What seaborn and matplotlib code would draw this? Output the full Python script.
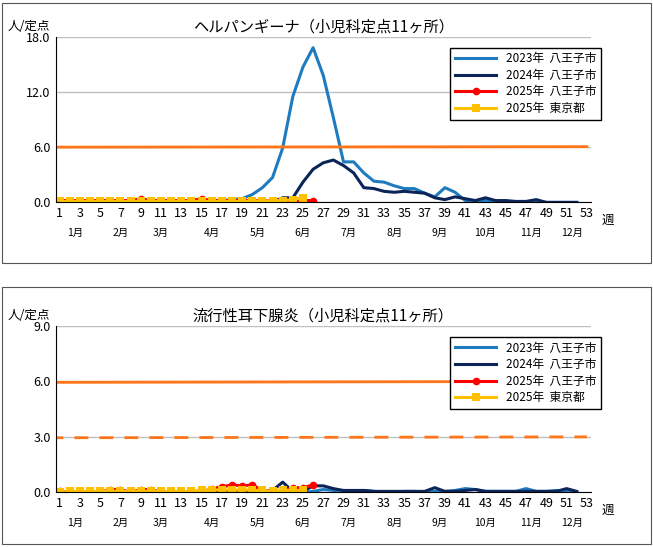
import numpy as np
import pandas as pd
import matplotlib
matplotlib.use('Agg')
import matplotlib.pyplot as plt
import seaborn as sns

plt.rcParams['font.family'] = ['Noto Sans CJK JP']

weeks = list(range(1, 53))

# Herpangina
herp_2023 = [0.1, 0.1, 0.1, 0.1, 0.1, 0.1, 0.1, 0.1, 0.1, 0.1, 0.1, 0.1, 0.1, 0.1, 0.1, 0.2, 0.2, 0.3, 0.4, 0.85,
             1.6, 2.7, 5.9, 11.5, 14.7, 16.8, 13.8, 9.2, 4.4, 4.4, 3.2, 2.3, 2.2, 1.8, 1.5, 1.5, 1.0, 0.6, 1.6, 1.1,
             0.2, 0.2, 0.2, 0.1, 0.1, 0.1, 0.1, 0.1, 0.0, 0.0, 0.0, 0.0]
herp_2024 = [0.0] * 22 + [0.5, 0.5, 2.2, 3.6, 4.3, 4.6, 4.0, 3.2, 1.6, 1.5, 1.2, 1.1, 1.2, 1.1, 1.0, 0.5, 0.3, 0.6,
             0.4, 0.2, 0.5, 0.2, 0.2, 0.1, 0.1, 0.3, 0.0, 0.0, 0.0, 0.0]
herp_2025_hachioji = [0.2, 0.2, 0.2, 0.2, 0.2, 0.2, 0.2, 0.2, 0.4, 0.2, 0.2, 0.2, 0.2, 0.2, 0.4, 0.2, 0.2, 0.2, 0.2, 0.2,
                      0.2, 0.2, 0.2, 0.2, 0.2, 0.2]
herp_2025_tokyo = [0.1, 0.1, 0.1, 0.1, 0.1, 0.1, 0.1, 0.1, 0.1, 0.1, 0.1, 0.1, 0.1, 0.1, 0.1, 0.1, 0.1, 0.1, 0.1, 0.15,
                   0.15, 0.2, 0.2, 0.3, 0.5]
herp_ref = 6.0

# Mumps
mumps_2023 = [0.0] * 25 + [0.05, 0.15, 0.1, 0.05, 0.05, 0.1, 0.05, 0.0, 0.0, 0.05, 0.05, 0.0, 0.05, 0.05, 0.1,
              0.2, 0.15, 0.05, 0.05, 0.05, 0.05, 0.2, 0.05, 0.05, 0.1, 0.05, 0.0]
mumps_2024 = [0.0] * 20 + [0.05, 0.1, 0.55, 0.05, 0.05, 0.35, 0.35, 0.2, 0.1, 0.1, 0.1, 0.05, 0.05, 0.05, 0.05,
              0.05, 0.05, 0.25, 0.05, 0.05, 0.1, 0.15, 0.05, 0.05, 0.05, 0.05, 0.05, 0.05, 0.05, 0.05, 0.2, 0.05]
mumps_2025_hachioji = [0.05, 0.0, 0.0, 0.0, 0.0, 0.15, 0.15, 0.0, 0.15, 0.15, 0.0, 0.0, 0.0, 0.0, 0.0, 0.2, 0.3, 0.4,
                       0.35, 0.4, 0.1, 0.05, 0.05, 0.25, 0.25, 0.4]
mumps_2025_tokyo = [0.0, 0.05, 0.05, 0.05, 0.05, 0.05, 0.05, 0.05, 0.05, 0.05, 0.05, 0.05, 0.05, 0.05, 0.1, 0.1, 0.15,
                    0.1, 0.15, 0.1, 0.1, 0.05, 0.1, 0.1, 0.1]
mumps_ref_solid = 5.95
mumps_ref_dash = 2.95

week_ticks = list(range(1, 54, 2))
months = ['1月', '2月', '3月', '4月', '5月', '6月', '7月', '8月', '9月', '10月', '11月', '12月']
month_pos = [2.5, 7, 11, 16, 20.5, 25, 29.5, 34, 38.5, 43, 47.5, 51.5]

labels = ['2023年  八王子市', '2024年  八王子市', '2025年  八王子市', '2025年  東京都']
colors = ['#1f7bc0', '#0b2559', '#ff0000', '#ffc000']
markers = [None, None, 'o', 's']

fig = plt.figure(figsize=(6.53, 5.47), dpi=100)
for rect in [(0.003, 0.52, 0.994, 0.475), (0.003, 0.005, 0.994, 0.47)]:
    fig.patches.append(plt.Rectangle(rect[:2], rect[2], rect[3], transform=fig.transFigure,
                                     fill=False, edgecolor='#555555', lw=0.8))


def draw(ax, series, ymax, step, title, refs):
    for vals, lab, c, m in zip(series, labels, colors, markers):
        df = pd.DataFrame({'week': weeks[:len(vals)], 'v': vals})
        sns.lineplot(data=df, x='week', y='v', ax=ax, color=c, lw=2.2, marker=m,
                     markersize=5.5, markeredgewidth=0, label=lab)
    for y, ls in refs:
        ax.plot([0, 53], [y, y + 0.05], color='#ff7518', lw=2, ls=ls, dashes=(5, 4) if ls == '--' else (None, None))
    ax.set_xlim(0.6, 53.4)
    ax.set_ylim(0, ymax)
    yt = np.arange(0, ymax + 0.01, step)
    ax.set_yticks(yt)
    ax.set_yticklabels([f'{v:.1f}' for v in yt], fontsize=9)
    ax.set_xticks(week_ticks)
    ax.set_xticklabels([str(w) for w in week_ticks], fontsize=9)
    ax.tick_params(length=0)
    ax.grid(axis='y', color='#c0c0c0', lw=1)
    ax.set_axisbelow(True)
    for s in ['top', 'right']:
        ax.spines[s].set_visible(False)
    ax.set_xlabel('')
    ax.set_ylabel('')
    ax.set_title(title, fontsize=11, pad=4)
    ax.text(-0.09, 1.04, '人/定点', transform=ax.transAxes, fontsize=9)
    ax.text(1.02, -0.13, '週', transform=ax.transAxes, fontsize=9)
    for p, m in zip(month_pos, months):
        ax.text(p, -0.2, m, transform=ax.get_xaxis_transform(), ha='center', fontsize=7.5)
    leg = ax.legend(loc='upper right', bbox_to_anchor=(1.03, 0.97), fontsize=8.5, frameon=True,
                    fancybox=False, edgecolor='black', handlelength=3.5, borderpad=0.4, labelspacing=0.3,
                    framealpha=1)
    leg.get_frame().set_linewidth(1)
    leg.set_zorder(10)


ax1 = fig.add_axes([0.085, 0.63, 0.82, 0.303])
draw(ax1, [herp_2023, herp_2024, herp_2025_hachioji, herp_2025_tokyo], 18, 6,
     'ヘルパンギーナ（小児科定点11ヶ所）', [(herp_ref, '-')])
ax2 = fig.add_axes([0.085, 0.10, 0.82, 0.304])
draw(ax2, [mumps_2023, mumps_2024, mumps_2025_hachioji, mumps_2025_tokyo], 9, 3,
     '流行性耳下腺炎（小児科定点11ヶ所）', [(mumps_ref_solid, '-'), (mumps_ref_dash, '--')])

fig.savefig('out.png', dpi=100)
